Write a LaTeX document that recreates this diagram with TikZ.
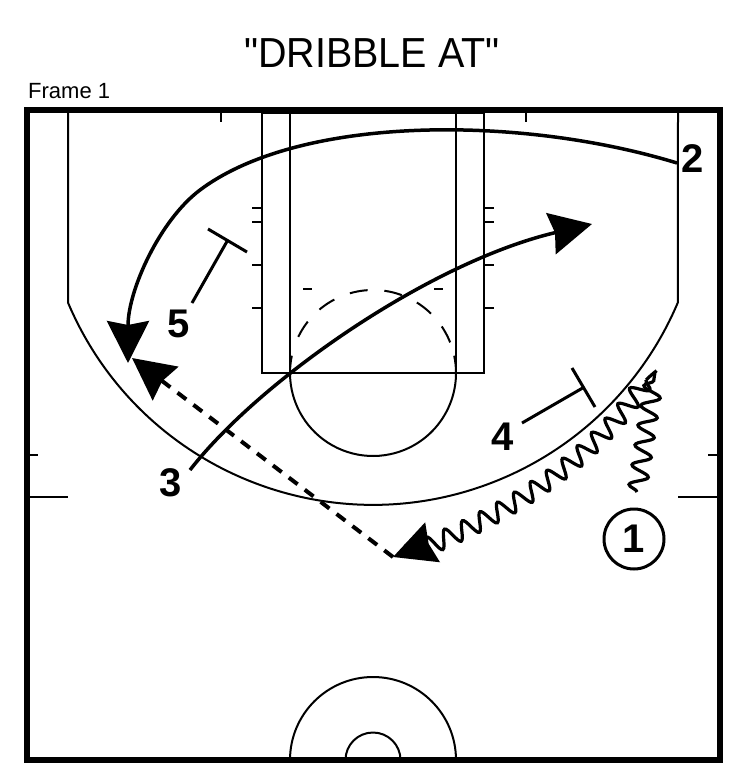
\documentclass[tikz,border=0pt]{standalone}
\usepackage{fontspec}
\setmainfont{Liberation Sans}
\newfontfamily\titlefont[Ligatures=TeXOff]{Liberation Sans}
\usetikzlibrary{arrows.meta,decorations.pathmorphing}

\tikzset{
	courtline/.style={line width=2pt},
	player/.style={font=\bfseries\fontsize{40}{40}\selectfont, inner sep=0pt},
	cutline/.style={line width=3.5pt, -{Stealth[length=42pt,width=42pt,inset=4pt]}},
	passline/.style={cutline, line width=4pt, dash pattern=on 11pt off 9pt},
	wiggle/.style={line width=3.2pt, decorate, decoration={snake, amplitude=9pt, segment length=20pt, post length=4pt}},
	dribbleline/.style={wiggle, -{Stealth[length=42pt,width=42pt,inset=4pt]}},
	screenline/.style={line width=3pt}
}

\begin{document}
\begin{tikzpicture}[x=1pt,y=-1pt]
	\useasboundingbox (0,0) rectangle (750,784);
	\node[font=\titlefont\fontsize{42}{42}\selectfont, xscale=0.94, anchor=base, inner sep=0pt](title) at (372,67) {"DRIBBLE AT"};
	\node[font=\fontsize{22}{22}\selectfont, anchor=base west, inner sep=0pt](frame) at (28,98) {Frame 1};
	\draw[line width=6pt] (27,110) rectangle (720,760);
	\draw[courtline] (262,113) rectangle (484,373);
	\draw[courtline] (290,113) -- (290,373) (456,113) -- (456,373);
	\foreach \y in {208,222,265,308}
		\draw[courtline] (252,\y) -- (262,\y) (484,\y) -- (494,\y);
	\draw[courtline] (221,113) -- (221,122) (526,113) -- (526,122);
	\draw[courtline] (373,373) ++(-12:83) arc[start angle=-12, end angle=192, radius=83];
	\draw[courtline, dash pattern=on 18pt off 16.8pt] (373,373) ++(205.8:83) arc[start angle=205.8, end angle=338.5, radius=83];
	\draw[courtline] (303,289) -- (312,289) (434,289) -- (443,289);
	\draw[courtline] (68,113) -- (68,302.6) arc[start angle=157.1, end angle=22.9, radius=331] -- (678,113);
	\draw[courtline] (30,455) -- (38,455) (30,497) -- (68,497) (678,497) -- (717,497) (708,455) -- (717,455);
	\draw[courtline] (290,760) arc[start angle=180, end angle=360, radius=83];
	\draw[courtline] (345.5,760) arc[start angle=180, end angle=360, radius=27.5];
	\node[player](p2) at (693,159) {2};
	\node[player](p3) at (171,483) {3};
	\node[player](p5) at (179,324) {5};
	\node[player](p4) at (503,437) {4};
	\node[player, circle, draw, line width=3pt, minimum size=60pt](p1) at (634,539) {1};
	\coordinate (s2) at (677,163);
	\coordinate (e2) at (128,363);
	\coordinate (s3) at (190,470);
	\coordinate (e3) at (592,224);
	\coordinate (s1) at (637,492);
	\coordinate (t1) at (655,372);
	\coordinate (u1) at (646,380);
	\coordinate (e1) at (393,557);
	\coordinate (e5) at (132,358);
	\coordinate (s5) at (192,303);
	\coordinate (b5) at (227.5,240.5);
	\coordinate (s4) at (522,423);
	\coordinate (b4) at (583.5,387.5);
	\draw[cutline] (s2) .. controls (520,115) and (300,115) .. (200,190) .. controls (160,220) and (128,290) .. (e2);
	\draw[cutline] (s3) .. controls (260,380) and (430,262) .. (e3);
	\draw[wiggle] (s1) -- (t1);
	\draw[line width=3.2pt] (t1) .. controls (660,368) and (652,374) .. (u1);
	\draw[dribbleline] (u1) .. controls (600,450) and (520,510) .. (e1);
	\draw[passline] (e1) -- (e5);
	\draw[screenline] (s5) -- (b5) (208,229) -- (247,252);
	\draw[screenline] (s4) -- (b4) (572,368) -- (595,407);
\end{tikzpicture}
\end{document}
